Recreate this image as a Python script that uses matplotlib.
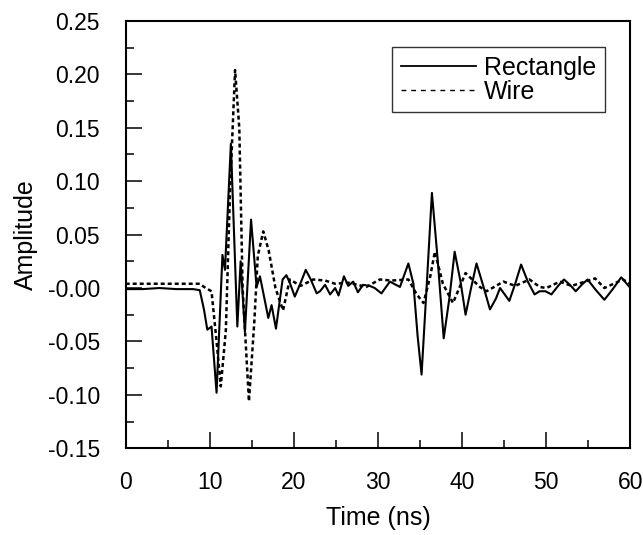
import numpy as np
import matplotlib
matplotlib.use("Agg")
import matplotlib.pyplot as plt
from matplotlib.ticker import MultipleLocator

# values (time in ns, amplitude)
rect_t = [0, 2, 4, 6, 8, 8.8, 9.3, 9.7, 10.2, 10.8, 11.5, 11.8, 12.5, 13.27, 13.66,
          14.17, 14.9, 15.56, 15.96, 16.95, 17.34, 17.86, 18.65, 19.1, 19.5, 20.1,
          20.8, 21.4, 22.0, 22.7, 23.1, 23.7, 24.3, 24.9, 25.3, 25.94, 26.45, 27.04,
          27.6, 28.2, 29.0, 29.6, 30.4, 31.4, 32.6, 33.1, 33.6, 34.2, 34.7, 35.17,
          35.8, 36.4, 37.1, 37.8, 38.5, 39.1, 39.8, 40.4, 41.0, 41.7, 42.5, 43.3,
          44.0, 44.5, 45.6, 46.3, 47.0, 47.8, 48.6, 49.2, 49.9, 50.6, 51.4, 52.1,
          52.8, 53.5, 54.2, 54.9, 55.9, 56.9, 57.9, 58.9, 60]
rect_v = [-0.001, -0.001, 0.000, -0.001, -0.001, -0.002, -0.020, -0.039, -0.036,
          -0.098, 0.031, 0.017, 0.135, -0.036, 0.025, -0.041, 0.064, 0.001, 0.011,
          -0.028, -0.016, -0.038, 0.008, 0.012, 0.005, -0.008, 0.005, 0.017, 0.008,
          -0.005, -0.003, 0.003, -0.006, 0.000, -0.007, 0.011, 0.002, 0.006, -0.004,
          0.003, 0.002, 0.000, -0.005, 0.006, 0.001, 0.012, 0.023, 0.004, -0.045,
          -0.081, 0.005, 0.089, 0.025, -0.047, -0.008, 0.034, 0.006, -0.025, -0.002,
          0.023, 0.002, -0.020, -0.010, 0.000, -0.012, 0.004, 0.022, 0.006, -0.006,
          -0.003, -0.003, -0.006, 0.002, 0.008, 0.003, -0.003, 0.003, 0.008, -0.002,
          -0.011, -0.001, 0.010, 0.000]

wire_t = [0, 3, 6, 8.8, 9.5, 10.2, 10.8, 11.3, 11.9, 12.4, 13.0, 13.5, 13.9, 14.65,
          15.3, 15.7, 16.35, 17.0, 17.8, 18.7, 19.5, 20.8, 22.3, 23.7, 24.9, 26.5,
          28.6, 30.2, 31.6, 33.6, 34.6, 35.4, 36.2, 36.75, 37.7, 38.9, 40.4, 42.1,
          42.9, 44.9, 46.3, 48.0, 49.2, 50.0, 51.6, 53.0, 55.8, 56.9, 59.1, 60]
wire_v = [0.004, 0.004, 0.004, 0.004, 0.000, -0.003, -0.050, -0.092, -0.040, 0.090,
          0.204, 0.150, 0.000, -0.106, -0.030, 0.030, 0.053, 0.035, 0.000, -0.021,
          0.008, 0.002, 0.008, 0.007, 0.004, 0.005, 0.001, 0.008, 0.007, 0.008,
          -0.006, -0.014, 0.011, 0.034, 0.004, -0.014, 0.014, 0.001, -0.003, 0.006,
          0.002, 0.008, 0.001, 0.000, 0.006, 0.002, 0.009, 0.000, 0.008, 0.004]

yticks = [0.25, 0.20, 0.15, 0.10, 0.05, 0.0, -0.05, -0.10, -0.15]
ytick_labels = ["0.25", "0.20", "0.15", "0.10", "0.05", "-0.00", "-0.05", "-0.10", "-0.15"]

plt.rcParams['font.family'] = ['Liberation Sans', 'DejaVu Sans']

fig = plt.figure(figsize=(6.43, 5.35), dpi=100)
ax = fig.add_axes([0.1955, 0.162, 0.785, 0.799])

ax.plot(rect_t, rect_v, color="black", lw=1.5, label="Rectangle")
ax.plot(wire_t, wire_v, color="black", lw=1.8, dashes=(1.6, 1.2), label="Wire")

ax.set_xlim(0, 60)
ax.set_ylim(-0.15, 0.25)
ax.set_xticks([0, 10, 20, 30, 40, 50, 60])
ax.set_yticks(yticks)
ax.set_yticklabels(ytick_labels)
ax.xaxis.set_minor_locator(MultipleLocator(5))
ax.yaxis.set_minor_locator(MultipleLocator(0.025))
ax.tick_params(which="both", direction="in", top=False, right=False,
               labelsize=16.5, width=1.1, color="black")
ax.tick_params(which="major", length=11.5)
ax.tick_params(which="minor", length=6)
ax.tick_params(axis="x", which="major", pad=16)
ax.tick_params(axis="y", which="major", pad=18.5)
for s in ax.spines.values():
    s.set_linewidth(1.5)

ax.set_xlabel("Time (ns)", fontsize=18, labelpad=9)
ax.set_ylabel("Amplitude", fontsize=18, labelpad=7)

leg = ax.legend(loc="upper right", bbox_to_anchor=(0.949, 0.939), borderaxespad=0,
                fontsize=18, frameon=True, fancybox=False, handlelength=3.0,
                borderpad=0.35, labelspacing=0.0, handletextpad=0.3)
leg.get_frame().set_edgecolor("black")
leg.get_frame().set_linewidth(1.0)
for h in leg.get_lines():
    h.set_linewidth(1.0)
leg.get_lines()[0].set_linewidth(1.3)
leg.get_lines()[1].set_dashes((3.5, 3.5))

fig.savefig("out.png", dpi=100)
